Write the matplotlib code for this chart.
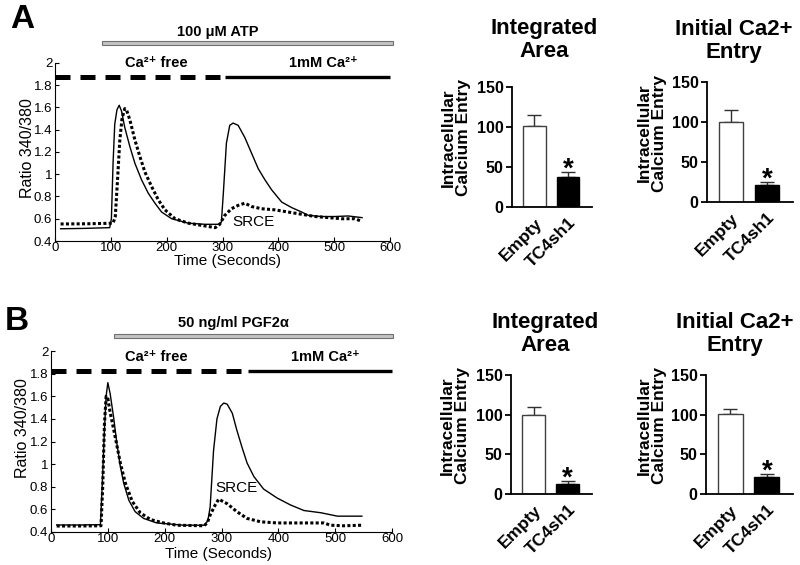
import matplotlib
matplotlib.use('Agg')
import matplotlib.pyplot as plt
from matplotlib.patches import Rectangle
from matplotlib.transforms import blended_transform_factory

plt.rcParams['font.family'] = ['Liberation Sans', 'DejaVu Sans']

# ---------------- data ----------------
# Panel A (ATP) traces
a_empty_t = [10, 50, 98, 101, 104, 107, 111, 115, 119, 125, 134, 143, 155, 167, 179, 191, 209, 239, 269, 293,
             298, 301.5, 307, 313, 319, 328, 340, 352, 364, 376, 388, 406, 424, 442, 454, 478, 501, 525, 550]
a_empty_r = [0.51, 0.513, 0.52, 0.6, 1.1, 1.45, 1.58, 1.62, 1.57, 1.42, 1.25, 1.10, 0.95, 0.83, 0.74, 0.66, 0.60,
             0.56, 0.55, 0.55, 0.57, 0.83, 1.28, 1.44, 1.46, 1.44, 1.33, 1.19, 1.05, 0.95, 0.86, 0.75, 0.70, 0.66,
             0.63, 0.62, 0.62, 0.625, 0.61]
a_kd_t = [10, 60, 104, 108, 112, 116, 120, 125, 128, 134, 143, 152, 161, 173, 185, 197, 215, 239, 269, 287,
          295, 304, 316, 328, 340, 352, 370, 394, 418, 442, 466, 490, 513, 537, 548]
a_kd_r = [0.553, 0.555, 0.56, 0.62, 0.95, 1.3, 1.5, 1.59, 1.58, 1.49, 1.31, 1.16, 1.02, 0.89, 0.77, 0.68, 0.60,
          0.56, 0.535, 0.52, 0.55, 0.63, 0.69, 0.72, 0.74, 0.71, 0.69, 0.68, 0.66, 0.64, 0.62, 0.61, 0.60, 0.60, 0.58]

# Panel B (PGF2a) traces
b_empty_t = [10, 50, 87, 90, 94, 97, 100, 104, 110, 116, 122, 128, 137, 148, 163, 186, 210, 233, 270, 276, 280,
             286, 292, 298, 304, 310, 319, 327, 336, 345, 357, 374, 398, 421, 445, 475, 504, 547]
b_empty_r = [0.462, 0.462, 0.465, 0.8, 1.3, 1.6, 1.72, 1.625, 1.42, 1.18, 0.98, 0.83, 0.68, 0.58, 0.52, 0.48,
             0.47, 0.46, 0.46, 0.50, 0.62, 1.12, 1.40, 1.51, 1.54, 1.53, 1.45, 1.30, 1.15, 1.01, 0.89, 0.78, 0.70,
             0.64, 0.59, 0.57, 0.54, 0.54]
b_kd_t = [10, 50, 88, 91, 94, 97, 100, 104, 113, 122, 131, 143, 157, 175, 198, 221, 269, 275, 280, 289, 295,
          310, 327, 345, 369, 398, 427, 480, 492, 515, 547]
b_kd_r = [0.453, 0.453, 0.455, 0.8, 1.35, 1.6, 1.58, 1.46, 1.24, 1.01, 0.83, 0.67, 0.57, 0.51, 0.48, 0.46,
          0.455, 0.48, 0.55, 0.64, 0.69, 0.65, 0.58, 0.52, 0.49, 0.48, 0.48, 0.48, 0.46, 0.455, 0.46]

# Bar charts
groups = ['Empty', 'TC4sh1']
a_integrated_mean = [101.5, 37]
a_integrated_sem = [14, 7]
a_initial_mean = [100.3, 21.1]
a_initial_sem = [15.3, 3.8]
b_integrated_mean = [99.7, 13]
b_integrated_sem = [9.7, 2.9]
b_initial_mean = [100.6, 21.4]
b_initial_sem = [6.4, 3.6]

# protocol annotations (time in seconds)
a_drug_span = (84, 605)
b_drug_span = (111, 602)
a_switch = (296, 305)
b_switch = (347, 347)
a_bath_y = 1.87
b_bath_y = 1.826

W, H = 800, 565
fig = plt.figure(figsize=(W / 100, H / 100), dpi=100)


def rect(l, t, r, b):
    return [l / W, 1 - b / H, (r - l) / W, (b - t) / H]


def ftext(x, y, s, **kw):
    fig.text(x / W, 1 - y / H, s, **kw)


def trace_panel(box, et, er, kt, kr, bath_y, switch, drug_span, drug_label, drug_bar_y, drug_text_y,
                srce_xy, free_xy, ca_xy, ylab_xy, xlab_xy, letter, letter_xy):
    ax = fig.add_axes(rect(*box))
    ax.plot(et, er, color='black', lw=1.0)
    ax.plot(kt, kr, color='black', lw=2.2, linestyle=(0, (1, 0.75)), dash_capstyle='butt')
    ax.set_xlim(0, 600)
    ax.set_ylim(0.4, 2.0)
    ax.set_xticks([0, 100, 200, 300, 400, 500, 600])
    yt = [0.4, 0.6, 0.8, 1.0, 1.2, 1.4, 1.6, 1.8, 2.0]
    ax.set_yticks(yt)
    ax.set_yticklabels(['0.4', '0.6', '0.8', '1', '1.2', '1.4', '1.6', '1.8', '2'])
    for s in ['top', 'right']:
        ax.spines[s].set_visible(False)
    for s in ['left', 'bottom']:
        ax.spines[s].set_linewidth(0.8)
    ax.tick_params(direction='in', length=3, width=0.8, labelsize=9.5)
    ax.tick_params(axis='x', pad=1)
    ax.tick_params(axis='y', pad=2)
    # bath bars
    ax.plot([0, switch[0]], [bath_y, bath_y], color='black', lw=3.6, linestyle=(0, (3, 2)),
            dash_capstyle='butt', clip_on=False)
    ax.plot([switch[1], 600], [bath_y, bath_y], color='black', lw=2.4, clip_on=False, solid_capstyle='butt')
    # drug bar
    tr = blended_transform_factory(ax.transData, ax.transAxes)
    hfrac = 4.5 / (box[3] - box[1])
    ax.add_patch(Rectangle((drug_span[0], drug_bar_y - hfrac / 2), drug_span[1] - drug_span[0], hfrac,
                           transform=tr, facecolor='#c4c4c4', edgecolor='#707070', lw=0.8, clip_on=False))
    ftext(drug_text_y[0], drug_text_y[1], drug_label, ha='center', va='center', fontsize=10.5, weight='bold')
    ax.text(srce_xy[0], srce_xy[1], 'SRCE', ha='center', va='center', fontsize=11)
    ax.text(free_xy[0], free_xy[1], 'Ca²⁺ free', ha='center', va='center', fontsize=10.5, weight='bold')
    ax.text(ca_xy[0], ca_xy[1], '1mM Ca²⁺', ha='center', va='center', fontsize=10.5, weight='bold')
    ftext(ylab_xy[0], ylab_xy[1], 'Ratio 340/380', rotation=90, ha='center', va='center', fontsize=11.5)
    ftext(xlab_xy[0], xlab_xy[1], 'Time (Seconds)', ha='center', va='center', fontsize=11)
    ftext(letter_xy[0], letter_xy[1], letter, ha='center', va='center', fontsize=24, weight='bold')
    return ax


def bar_panel(box, means, sems, title, title_xy, ylab_x):
    ax = fig.add_axes(rect(*box))
    x = [0, 1]
    ax.bar(x, means, width=0.68, color=['white', 'black'], edgecolor=['#404040', 'black'], linewidth=1.0,
           zorder=2)
    for xi, m, s in zip(x, means, sems):
        ax.errorbar([xi], [m], yerr=[[0], [s]], fmt='none', ecolor='#303030', elinewidth=1.0,
                    capsize=5, capthick=1.0, zorder=1)
    ax.annotate('*', xy=(1, means[1] + sems[1]), xytext=(0, -7.5), textcoords='offset points',
                ha='center', va='bottom', fontsize=20, weight='bold')
    ax.set_xlim(-0.67, 1.72)
    ax.set_ylim(0, 150)
    ax.set_yticks([0, 50, 100, 150])
    ax.set_xticks(x)
    ax.set_xticklabels(groups, rotation=45, ha='right', rotation_mode='anchor')
    for s in ['top', 'right']:
        ax.spines[s].set_visible(False)
    for s in ['left', 'bottom']:
        ax.spines[s].set_linewidth(1.3)
    ax.tick_params(axis='y', direction='out', length=4, width=1.3, labelsize=11.5, pad=2)
    ax.tick_params(axis='x', length=0, labelsize=12.5, pad=6)
    for lab in ax.get_xticklabels() + ax.get_yticklabels():
        lab.set_fontweight('bold')
    ftext(title_xy[0], title_xy[1], title, ha='center', va='center', fontsize=16, weight='bold',
          multialignment='center', linespacing=1.15)
    cy = (box[1] + box[3]) / 2 - 9
    ftext(ylab_x, cy, 'Intracellular\nCalcium Entry', rotation=90, ha='center', va='center', fontsize=12.5,
          weight='bold', multialignment='center', linespacing=1.0)
    return ax


trace_panel((55, 63, 390, 241), a_empty_t, a_empty_r, a_kd_t, a_kd_r, a_bath_y, a_switch, a_drug_span,
            '100 μM ATP', 1.112, (218, 32), (355, 0.573), (182, 2.0), (481, 2.0), (28, 148), (227, 261),
            'A', (22, 20))
trace_panel((51, 351, 392, 532), b_empty_t, b_empty_r, b_kd_t, b_kd_r, b_bath_y, b_switch, b_drug_span,
            '50 ng/ml PGF2α', 1.083, (233, 323), (327, 0.786), (186, 1.95), (483, 1.95), (23, 428), (218, 554),
            'B', (17, 322))

bar_panel((512, 87, 592, 207), a_integrated_mean, a_integrated_sem, 'Integrated\nArea', (544, 40), 456)
bar_panel((707, 82, 793, 202), a_initial_mean, a_initial_sem, 'Initial Ca2+\nEntry', (734, 41), 652)
bar_panel((511, 375, 592, 494), b_integrated_mean, b_integrated_sem, 'Integrated\nArea', (545, 334), 455)
bar_panel((706, 375, 793, 494), b_initial_mean, b_initial_sem, 'Initial Ca2+\nEntry', (735, 334), 652)

fig.savefig('out.png', dpi=100)
